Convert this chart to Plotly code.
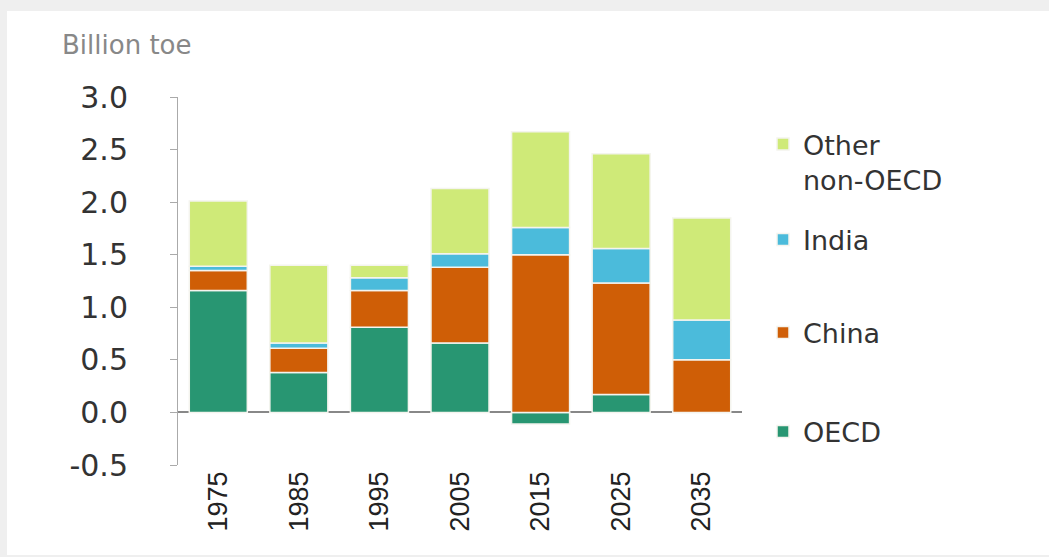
import plotly.graph_objects as go

years = ["1975", "1985", "1995", "2005", "2015", "2025", "2035"]
oecd = [1.16, 0.38, 0.81, 0.66, -0.11, 0.17, 0.0]
china = [0.19, 0.23, 0.35, 0.72, 1.50, 1.06, 0.50]
india = [0.04, 0.05, 0.12, 0.13, 0.26, 0.33, 0.38]
other = [0.62, 0.74, 0.12, 0.62, 0.91, 0.90, 0.97]
ytick_vals = [-0.5, 0.0, 0.5, 1.0, 1.5, 2.0, 2.5, 3.0]
ytick_text = ["-0.5", "0.0", "0.5", "1.0", "1.5", "2.0", "2.5", "3.0"]

W, H = 1049, 557
L, R, T, B = 178, 742, 97, 465

def px(x):
    return (x - L) / (R - L)

def py(y):
    return (B - y) / (B - T)

# name, values, colour, legend id, legend centre (pixel y)
series = [
    ("OECD", oecd, "#289672", "legend", 432),
    ("China", china, "#cf5e06", "legend2", 333),
    ("India", india, "#4bbbdb", "legend3", 240),
    ("Other<br>non-OECD", other, "#cfea78", "legend4", 162),
]

fig = go.Figure()
legends = {}
for name, vals, col, lg, cy in series:
    fig.add_trace(go.Bar(
        x=years, y=vals, name=name, legend=lg,
        marker=dict(color=col, line=dict(color="#f4f4ee", width=1.5)),
    ))
    legends[lg] = dict(
        x=px(763), xanchor="left", y=py(cy), yanchor="middle",
        font=dict(size=27, color="#333333"), valign="top",
        bgcolor="rgba(0,0,0,0)", itemwidth=30,
    )

fig.update_layout(
    width=W, height=H,
    margin=dict(l=L, r=W - R, t=T, b=H - B, autoexpand=False),
    barmode="relative",
    bargap=0.28,
    paper_bgcolor="#efefef",
    plot_bgcolor="white",
    font=dict(family="DejaVu Sans, Arial, sans-serif", color="#333333"),
    showlegend=True,
    **legends,
    xaxis=dict(
        tickangle=-90, showline=False, ticks="",
        tickfont=dict(size=27, family="Liberation Sans, Arial, sans-serif", color="#222222"),
        showgrid=False,
    ),
    yaxis=dict(
        range=[-0.5, 3.0], tickmode="array", tickvals=ytick_vals, ticktext=ytick_text,
        showline=True, linecolor="#aaaaaa", linewidth=1,
        ticks="outside", ticklen=7, tickcolor="#aaaaaa",
        showgrid=False, zeroline=True, zerolinecolor="#888888", zerolinewidth=1.5,
        tickfont=dict(size=30, color="#333333"),
        ticklabelstandoff=36,
    ),
    shapes=[dict(
        type="rect", xref="paper", yref="paper", layer="below",
        x0=px(7), x1=px(W + 5), y0=py(H - 2), y1=py(11),
        fillcolor="white", line=dict(width=0),
    )],
    annotations=[dict(
        text="Billion toe", xref="paper", yref="paper",
        x=px(60), y=py(45), xanchor="left", yanchor="middle",
        showarrow=False, font=dict(size=26, color="#888888"),
    )],
)

fig.write_html("out.html")
